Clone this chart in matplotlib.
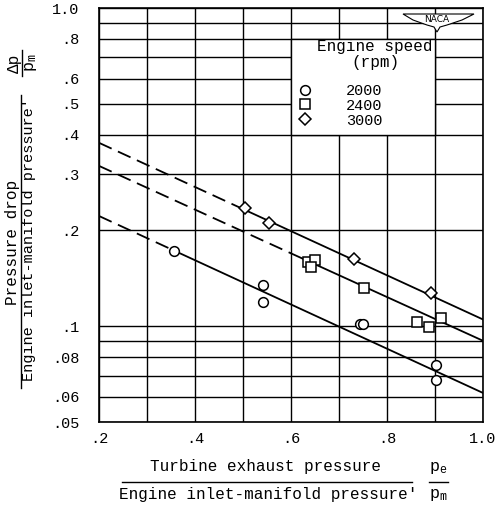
import matplotlib
matplotlib.use('Agg')
import matplotlib.pyplot as plt
from matplotlib.patches import Rectangle, Polygon
from matplotlib.lines import Line2D
import numpy as np

plt.rcParams['font.family'] = ['Liberation Mono', 'DejaVu Sans Mono']
plt.rcParams['mathtext.fontset'] = 'custom'
plt.rcParams['mathtext.rm'] = 'Liberation Mono'
plt.rcParams['mathtext.it'] = 'Liberation Mono'
plt.rcParams['lines.scale_dashes'] = False

# ---- data ----
x2000 = [0.356, 0.542, 0.542, 0.744, 0.751, 0.902, 0.902]
y2000 = [0.172, 0.135, 0.119, 0.1015, 0.1015, 0.0755, 0.0678]
x2400 = [0.635, 0.650, 0.642, 0.752, 0.862, 0.887, 0.912]
y2400 = [0.159, 0.1615, 0.1535, 0.132, 0.103, 0.0995, 0.106]
x3000 = [0.504, 0.554, 0.731, 0.892]
y3000 = [0.235, 0.211, 0.163, 0.127]

# fitted lines (values at x = 0.2 and x = 1.0) and start of solid part
fit_x = [0.2, 1.0]
fit2000 = [0.222, 0.0617]
fit2400 = [0.319, 0.090]
fit3000 = [0.377, 0.105]
solid_from = {'2000': 0.356, '2400': 0.60, '3000': 0.504}

xticks = [0.2, 0.4, 0.6, 0.8, 1.0]
xticklabels = ['.2', '.4', '.6', '.8', '1.0']
yticks = [0.05, 0.06, 0.08, 0.1, 0.2, 0.3, 0.4, 0.5, 0.6, 0.8, 1.0]
yticklabels = ['.05', '.06', '.08', '.1', '.2', '.3', '.4', '.5', '.6', '.8', '1.0']
ygrid = [0.05, 0.06, 0.07, 0.08, 0.09, 0.1, 0.2, 0.3, 0.4, 0.5, 0.6, 0.7, 0.8, 0.9, 1.0]
xgrid = [0.2, 0.3, 0.4, 0.5, 0.6, 0.7, 0.8, 0.9, 1.0]
legend_labels = ['2000', '2400', '3000']

W, H = 496, 505
fig = plt.figure(figsize=(W / 100, H / 100), dpi=100)
ax = fig.add_axes([99 / W, 1 - 422 / H, (483 - 99) / W, (422 - 8) / H])
ax.set_yscale('log')
ax.set_xlim(0.2, 1.0)
ax.set_ylim(0.05, 1.0)

for g in ygrid:
    ax.axhline(g, color='black', lw=1.0, zorder=1)
for g in xgrid:
    ax.axvline(g, color='black', lw=1.0, zorder=1)

# legend box (blank area over grid)
ax.add_patch(Rectangle((0.6, 0.4), 0.3, 0.4, facecolor='white',
                       edgecolor='black', lw=1.0, zorder=2))

def fitline(fit, xs):
    lf = np.log10(fit)
    return 10 ** np.interp(xs, fit_x, lf)

for fit, key in [(fit2000, '2000'), (fit2400, '2400'), (fit3000, '3000')]:
    xs = solid_from[key]
    xd = np.array([fit_x[0], xs])
    xsol = np.array([xs, fit_x[1]])
    ax.plot(xd, fitline(fit, xd), color='black', lw=1.3, dashes=(10, 5), zorder=3)
    ax.plot(xsol, fitline(fit, xsol), color='black', lw=1.3, zorder=3)

mk = dict(linestyle='none', mfc='white', mec='black', mew=1.1, zorder=4)
h1, = ax.plot(x2000, y2000, marker='o', ms=7, **mk)
h2, = ax.plot(x2400, y2400, marker='s', ms=7, **mk)
h3, = ax.plot(x3000, y3000, marker='D', ms=6.5, **mk)

ax.set_xticks(xticks)
ax.set_xticklabels(xticklabels)
ax.set_yticks(yticks)
ax.set_yticklabels(yticklabels)
ax.yaxis.set_minor_locator(matplotlib.ticker.NullLocator())
ax.tick_params(axis='both', length=0, labelsize=11)
ax.tick_params(axis='y', pad=14)
ax.tick_params(axis='x', pad=7)
for s in ax.spines.values():
    s.set_linewidth(1.2)

# legend
leg = ax.legend([h1, h2, h3], legend_labels, loc='upper left',
                bbox_to_anchor=(297 / W, 1 - 84 / H), bbox_transform=fig.transFigure,
                frameon=False, handlelength=1.0, handletextpad=2.2,
                labelspacing=0.05, fontsize=11, borderpad=0, borderaxespad=0)
leg.set_zorder(5)
fig.text(375 / W, 1 - 47 / H, 'Engine speed', ha='center', va='center', fontsize=11.5)
fig.text(375 / W, 1 - 63 / H, '(rpm)', ha='center', va='center', fontsize=11.5)

# NACA logo
pts = [(403, 14), (474, 14), (462, 20), (447, 25), (440, 27), (437, 32),
       (434, 27), (427, 25), (413, 20)]
fig.add_artist(Polygon([(x / W, 1 - y / H) for x, y in pts], closed=True,
                       transform=fig.transFigure, facecolor='white',
                       edgecolor='black', lw=0.8, zorder=10))
fig.text(437 / W, 1 - 20 / H, 'NACA', ha='center', va='center', fontsize=6.5,
         family='DejaVu Sans', zorder=11)

# x label
fig.text(265 / W, 1 - 467 / H, 'Turbine exhaust pressure', ha='center', va='center', fontsize=11.5)
fig.add_artist(Line2D([122 / W, 412 / W], [1 - 482 / H, 1 - 482 / H], color='black', lw=1.0))
fig.text(268 / W, 1 - 495 / H, "Engine inlet-manifold pressure'", ha='center', va='center', fontsize=11.5)
fig.text(438 / W, 1 - 468 / H, r'$\mathrm{p_e}$', ha='center', va='center', fontsize=12)
fig.add_artist(Line2D([429 / W, 448 / W], [1 - 482 / H, 1 - 482 / H], color='black', lw=1.0))
fig.text(438 / W, 1 - 495 / H, r'$\mathrm{p_m}$', ha='center', va='center', fontsize=12)

# y label
fig.text(13 / W, 1 - 242 / H, 'Pressure drop', ha='center', va='center', rotation=90, fontsize=11.5)
fig.add_artist(Line2D([21 / W, 21 / W], [1 - 388 / H, 1 - 95 / H], color='black', lw=1.0))
fig.text(29 / W, 1 - 240 / H, "Engine inlet-manifold pressure'", ha='center', va='center',
         rotation=90, fontsize=11)
fig.text(14 / W, 1 - 63 / H, '\u0394p', ha='center', va='center', rotation=90, fontsize=11.5)
fig.add_artist(Line2D([22 / W, 22 / W], [1 - 76 / H, 1 - 50 / H], color='black', lw=1.0))
fig.text(31 / W, 1 - 63 / H, r'$\mathrm{p_m}$', ha='center', va='center', rotation=90, fontsize=12)

fig.savefig('out.png', dpi=100)
